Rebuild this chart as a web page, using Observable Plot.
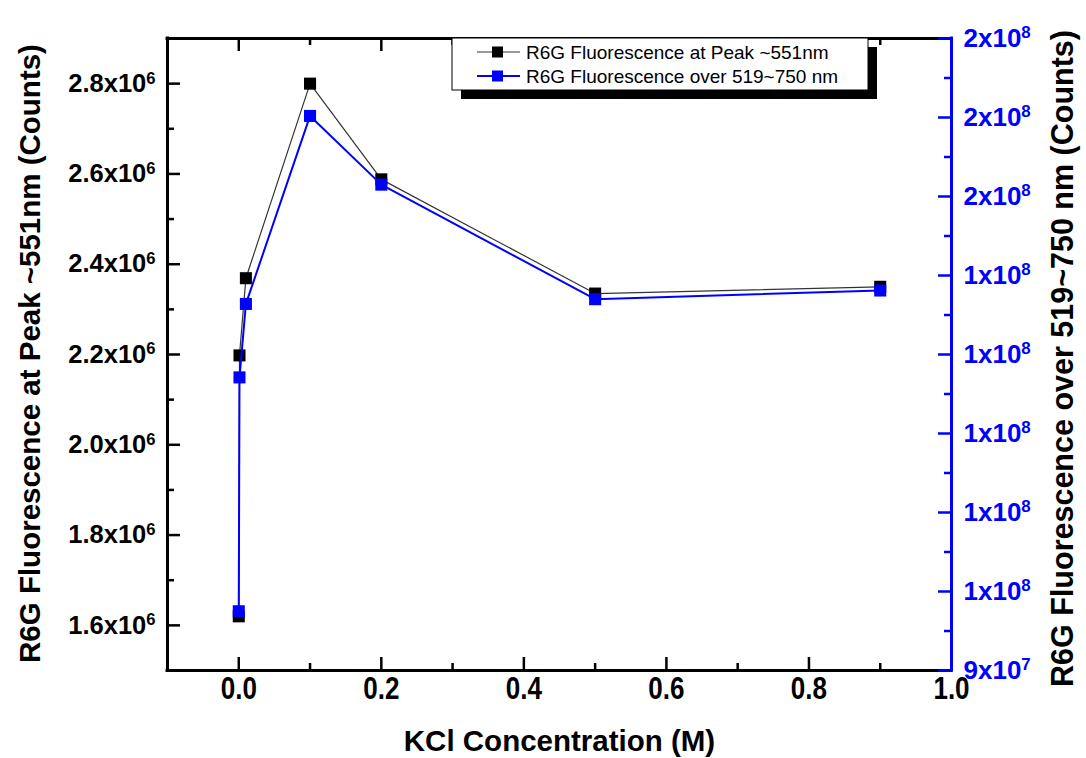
<!DOCTYPE html>
<html><head><meta charset="utf-8">
<script src="https://cdn.jsdelivr.net/npm/d3@7"></script>
<script src="https://cdn.jsdelivr.net/npm/@observablehq/plot@0.6"></script>
<style>
body{margin:0;background:#fff;}
#chart{position:relative;width:1086px;height:758px;}
</style></head><body><div id="chart"></div>
<script>
// ---- data ----
const kcl = [0, 0.001, 0.01, 0.1, 0.2, 0.5, 0.9];
const peakCounts = [1.62e6, 2.198e6, 2.369e6, 2.80e6, 2.588e6, 2.335e6, 2.35e6];
const bandCounts = [0.975e8, 1.271e8, 1.364e8, 1.602e8, 1.515e8, 1.370e8, 1.381e8];
const seriesNames = ["R6G Fluorescence at Peak ~551nm", "R6G Fluorescence over 519~750 nm"];
const xTicks = [0, 0.2, 0.4, 0.6, 0.8, 1.0];
const xTickLabels = ["0.0", "0.2", "0.4", "0.6", "0.8", "1.0"];
const xMinor = [0.1, 0.3, 0.5, 0.7, 0.9];
const leftTicks = [1.6e6, 1.8e6, 2.0e6, 2.2e6, 2.4e6, 2.6e6, 2.8e6];
const leftTickLabels = ["1.6x10|6", "1.8x10|6", "2.0x10|6", "2.2x10|6", "2.4x10|6", "2.6x10|6", "2.8x10|6"];
const leftMinor = [1.7e6, 1.9e6, 2.1e6, 2.3e6, 2.5e6, 2.7e6];
const rightTicks = [0.9e8, 1.0e8, 1.1e8, 1.2e8, 1.3e8, 1.4e8, 1.5e8, 1.6e8, 1.7e8];
const rightTickLabels = ["9x10|7", "1x10|8", "1x10|8", "1x10|8", "1x10|8", "1x10|8", "2x10|8", "2x10|8", "2x10|8"];
const rightMinor = [0.95e8, 1.05e8, 1.15e8, 1.25e8, 1.35e8, 1.45e8, 1.55e8, 1.65e8];
const xTitle = "KCl Concentration (M)";
const leftTitle = "R6G Fluorescence at Peak ~551nm (Counts)";
const rightTitle = "R6G Fluorescence over 519~750 nm (Counts)";
const xDomain = [-0.1, 1.0];
const leftDomain = [1.5e6, 2.9e6];
const rightDomain = [0.9e8, 1.7e8];

// ---- layout ----
const W = 1086, H = 758, mL = 167, mR = 135, mT = 38, mB = 88;
const plotW = W - mL - mR, plotH = H - mT - mB;
const BLUE = "#0000ff";
const FONT = "Liberation Sans, Arial, sans-serif";

// map right-axis values into left-axis units (twin axis)
const toLeft = v => leftDomain[0] + (v - rightDomain[0]) * (leftDomain[1] - leftDomain[0]) / (rightDomain[1] - rightDomain[0]);

const black = kcl.map((x, i) => ({x, y: peakCounts[i]}));
const blue = kcl.map((x, i) => ({x, y: toLeft(bandCounts[i])}));

const tk = {strokeWidth: 2.5};
const chart = Plot.plot({
  width: W, height: H, marginLeft: mL, marginRight: mR, marginTop: mT, marginBottom: mB,
  x: {domain: xDomain, axis: null},
  y: {domain: leftDomain, axis: null},
  style: {fontFamily: FONT, background: "white", color: "black"},
  marks: [
    Plot.line(black, {x: "x", y: "y", stroke: "#333", strokeWidth: 1.2}),
    Plot.dot(black, {x: "x", y: "y", symbol: "square", r: 6.8, fill: "#000", stroke: null}),
    Plot.line(blue, {x: "x", y: "y", stroke: BLUE, strokeWidth: 2}),
    Plot.dot(blue, {x: "x", y: "y", symbol: "square", r: 6.8, fill: BLUE, stroke: null}),
    // inward ticks bottom / top
    Plot.ruleX(xTicks, {...tk, stroke: "#000", insetTop: plotH - 13}),
    Plot.ruleX(xMinor, {...tk, stroke: "#000", insetTop: plotH - 7}),
    Plot.ruleX(xTicks, {...tk, stroke: "#000", insetBottom: plotH - 13}),
    Plot.ruleX(xMinor, {...tk, stroke: "#000", insetBottom: plotH - 7}),
    // left ticks
    Plot.ruleY(leftTicks, {...tk, stroke: "#000", insetRight: plotW - 13}),
    Plot.ruleY(leftMinor, {...tk, stroke: "#000", insetRight: plotW - 7}),
    // frame
    Plot.ruleX([xDomain[0]], {stroke: "#000", strokeWidth: 3, strokeLinecap: "square"}),
    Plot.ruleY(leftDomain, {stroke: "#000", strokeWidth: 3, strokeLinecap: "square"}),
    Plot.ruleX([xDomain[1]], {stroke: BLUE, strokeWidth: 3, strokeLinecap: "square"}),
    // right ticks (blue)
    Plot.ruleY(rightTicks.map(toLeft), {...tk, stroke: BLUE, insetLeft: plotW - 13}),
    Plot.ruleY(rightMinor.map(toLeft), {...tk, stroke: BLUE, insetLeft: plotW - 7}),
    // tick labels
    Plot.text(xTicks, {x: d => d, frameAnchor: "bottom", dy: 28, text: (d, i) => "~" + xTickLabels[i],
      fontSize: 31, fontWeight: "bold", fill: "#000", textAnchor: "middle"}),
    Plot.text(leftTicks, {y: d => d, frameAnchor: "left", dx: -12, textAnchor: "end", text: (d, i) => leftTickLabels[i],
      fontSize: 25.5, fontWeight: "bold", fill: "#000"}),
    Plot.text(rightTicks.map(toLeft), {y: d => d, frameAnchor: "right", dx: 12, textAnchor: "start", text: (d, i) => rightTickLabels[i],
      fontSize: 26, fontWeight: "bold", fill: BLUE}),
    // axis titles
    Plot.text([xTitle], {frameAnchor: "bottom", dy: 80, text: d => d, fontSize: 29.5, fontWeight: "bold", fill: "#000", textAnchor: "middle"}),
    Plot.text([leftTitle], {frameAnchor: "left", dx: -137, dy: -1, rotate: -90, textAnchor: "middle", text: d => d, fontSize: 29.5, fontWeight: "bold", fill: "#000"}),
    Plot.text([rightTitle], {frameAnchor: "right", dx: 112, dy: 4, rotate: -90, textAnchor: "middle", text: d => d, fontSize: 30.5, fontWeight: "bold", fill: "#000"})
  ]
});

// superscript exponents and condensed x tick labels
const svgns = "http://www.w3.org/2000/svg";
chart.querySelectorAll("text").forEach(t => {
  const s = t.textContent;
  if (s.includes("|")) {
    const parts = s.split("|");
    t.textContent = parts[0];
    const ts = document.createElementNS(svgns, "tspan");
    ts.setAttribute("dy", "-0.5em");
    ts.setAttribute("font-size", "0.65em");
    ts.textContent = parts[1];
    t.appendChild(ts);
  } else if (s.startsWith("~") && s.length === 4) {
    t.textContent = s.slice(1);
    const tr = t.getAttribute("transform") || "";
    t.setAttribute("transform", tr + " scale(0.84,1)");
  }
});

// legend with drop shadow
const svg = d3.select(chart);
const lg = svg.append("g").attr("font-family", FONT);
lg.append("rect").attr("x", 461).attr("y", 47).attr("width", 416).attr("height", 52).attr("fill", "#000");
lg.append("rect").attr("x", 452).attr("y", 38).attr("width", 416).attr("height", 52).attr("fill", "#fff").attr("stroke", "#000").attr("stroke-width", 1);
const legendColors = ["#333", BLUE], legendFill = ["#000", BLUE], legendLW = [1.2, 2];
seriesNames.forEach((name, i) => {
  const y = 52 + i * 24;
  lg.append("line").attr("x1", 477).attr("x2", 520).attr("y1", y).attr("y2", y).attr("stroke", legendColors[i]).attr("stroke-width", legendLW[i]);
  lg.append("rect").attr("x", 492).attr("y", y - 5.5).attr("width", 11).attr("height", 11).attr("fill", legendFill[i]);
  lg.append("text").attr("x", 526).attr("y", y).attr("dy", "0.35em").attr("text-anchor", "start").attr("font-size", 19).attr("fill", "#000").text(name);
});

document.getElementById("chart").appendChild(chart);
</script></body></html>
